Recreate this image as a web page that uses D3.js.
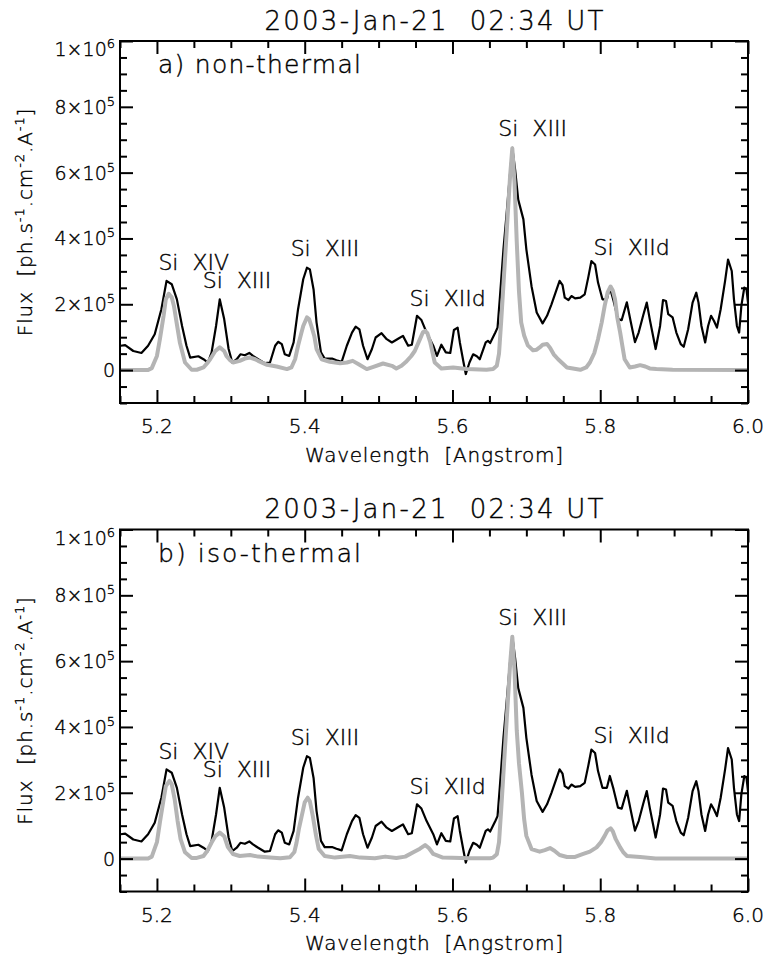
<!DOCTYPE html>
<html>
<head>
<meta charset="utf-8">
<script src="https://cdn.jsdelivr.net/npm/d3@7"></script>
<style>
  body { margin: 0; background: #fff; }
  svg text { font-family: "DejaVu Sans", sans-serif; font-weight: 200; fill: #000;
    stroke: #000; stroke-width: 0.4; white-space: pre; }
</style>
</head>
<body>
<div id="chart"></div>
<script>
// Observed spectrum (same in both panels), wavelength in Angstrom, flux in units of 1e5
let obsWave = [5.151, 5.157, 5.168, 5.179, 5.188, 5.197, 5.206, 5.213, 5.220, 5.227,
  5.234, 5.240, 5.245, 5.256, 5.263, 5.269, 5.274, 5.280, 5.285, 5.291,
  5.297, 5.302, 5.308, 5.313, 5.319, 5.325, 5.330, 5.337, 5.346, 5.353,
  5.360, 5.364, 5.369, 5.373, 5.379, 5.385, 5.391, 5.398, 5.403, 5.407,
  5.412, 5.416, 5.422, 5.427, 5.437, 5.443, 5.450, 5.457, 5.464, 5.469,
  5.474, 5.479, 5.485, 5.491, 5.496, 5.504, 5.511, 5.518, 5.527, 5.533,
  5.540, 5.545, 5.552, 5.558, 5.565, 5.574, 5.579, 5.585, 5.591, 5.597,
  5.602, 5.607, 5.610, 5.615, 5.618, 5.623, 5.628, 5.633, 5.637, 5.645,
  5.648, 5.651, 5.658, 5.661, 5.664, 5.669, 5.673, 5.676, 5.681, 5.685, 5.689,
  5.696, 5.700, 5.707, 5.714, 5.722, 5.728, 5.734, 5.741, 5.745, 5.749,
  5.752, 5.757, 5.761, 5.766, 5.773, 5.779, 5.784, 5.788, 5.793, 5.797,
  5.803, 5.809, 5.813, 5.818, 5.824, 5.829, 5.836, 5.841, 5.847, 5.852,
  5.858, 5.863, 5.867, 5.875, 5.881, 5.885, 5.889, 5.892, 5.898, 5.903,
  5.909, 5.913, 5.919, 5.925, 5.930, 5.933, 5.937, 5.942, 5.946, 5.950,
  5.954, 5.958, 5.963, 5.969, 5.973, 5.978, 5.981, 5.985, 5.988, 5.991,
  5.995, 5.998, 6.000];
let obsFlux = [0.74, 0.76, 0.58, 0.52, 0.74, 1.09, 1.85, 2.71, 2.61, 2.15,
  1.34, 0.74, 0.38, 0.42, 0.33, 0.23, 0.54, 1.34, 2.15, 1.55,
  0.64, 0.23, 0.33, 0.48, 0.45, 0.52, 0.43, 0.33, 0.21, 0.23,
  0.74, 0.86, 0.79, 0.48, 0.43, 0.84, 1.85, 2.76, 3.11, 3.06,
  2.45, 1.45, 0.54, 0.35, 0.35, 0.30, 0.25, 0.74, 1.14, 1.32,
  1.24, 0.74, 0.33, 0.64, 0.99, 1.12, 0.94, 0.84, 0.96, 1.04,
  0.74, 0.77, 1.65, 1.52, 1.14, 0.74, 0.43, 0.77, 0.54, 0.52,
  1.22, 1.29, 0.84, 0.23, -0.12, 0.23, 0.48, 0.42, 0.33, 0.84,
  0.89, 0.82, 1.14, 1.29, 2.15, 3.67, 4.68, 5.48, 6.75, 6.05, 5.18,
  4.58, 3.67, 2.55, 1.75, 1.42, 1.65, 2.00, 2.45, 2.71, 2.58,
  2.20, 2.13, 2.25, 2.18, 2.20, 2.30, 2.84, 3.31, 3.21, 2.66,
  2.15, 2.15, 2.51, 2.11, 1.55, 1.52, 2.06, 1.50, 0.85, 1.14,
  1.65, 2.05, 1.55, 0.64, 1.34, 2.13, 2.10, 1.70, 1.60, 1.14,
  0.79, 0.71, 1.24, 2.05, 2.35, 2.05, 1.34, 0.84, 1.34, 1.65,
  1.49, 1.29, 1.85, 2.71, 3.36, 3.01, 2.15, 1.34, 1.14, 1.95,
  2.51, 2.45, 2.05];

// a) non-thermal model
let ntWave = [5.150, 5.188, 5.193, 5.200, 5.204, 5.209, 5.212, 5.216, 5.220, 5.223,
  5.227, 5.231, 5.238, 5.247, 5.254, 5.263, 5.268, 5.272, 5.279, 5.285,
  5.291, 5.294, 5.299, 5.303, 5.312, 5.319, 5.326, 5.333, 5.337, 5.349,
  5.362, 5.376, 5.382, 5.387, 5.391, 5.395, 5.398, 5.403, 5.406, 5.409,
  5.413, 5.416, 5.423, 5.434, 5.448, 5.457, 5.465, 5.473, 5.484, 5.493,
  5.506, 5.518, 5.524, 5.531, 5.538, 5.544, 5.549, 5.556, 5.560, 5.563,
  5.566, 5.570, 5.576, 5.585, 5.601, 5.619, 5.646, 5.655, 5.660, 5.663,
  5.666, 5.669, 5.672, 5.675, 5.678, 5.681, 5.684, 5.687, 5.690, 5.693,
  5.697, 5.702, 5.709, 5.714, 5.718, 5.722, 5.728, 5.732, 5.737, 5.743,
  5.755, 5.773, 5.781, 5.786, 5.792, 5.797, 5.802, 5.806, 5.810, 5.814,
  5.817, 5.820, 5.823, 5.827, 5.830, 5.833, 5.840, 5.847, 5.854, 5.861,
  5.867, 5.876, 5.898, 6.000];
let ntFlux = [0, 0, 0.06, 0.43, 0.94, 1.65, 2.15, 2.32, 2.21, 1.95,
  1.39, 0.84, 0.23, 0.01, 0.01, 0.08, 0.21, 0.33, 0.58, 0.69,
  0.58, 0.43, 0.30, 0.23, 0.28, 0.35, 0.38, 0.33, 0.28, 0.16,
  0.11, 0.03, 0.08, 0.33, 0.74, 1.09, 1.34, 1.60, 1.55, 1.34,
  1.03, 0.64, 0.33, 0.25, 0.21, 0.23, 0.28, 0.18, 0.03, 0.10,
  0.20, 0.13, 0.05, 0.13, 0.27, 0.42, 0.58, 0.94, 1.15, 1.19,
  1.12, 0.84, 0.23, 0.05, 0.08, 0.03, 0.01, 0.03, 0.13, 0.5,
  1.5, 2.6, 3.7, 4.8, 5.9, 6.74, 5.7, 3.9, 2.4, 1.45,
  1.05, 0.75, 0.6, 0.62, 0.69, 0.77, 0.79, 0.68, 0.48, 0.33,
  0.08, 0.01, 0.08, 0.23, 0.52, 0.94, 1.45, 1.95, 2.36, 2.54,
  2.42, 2.15, 1.61, 1.14, 0.73, 0.33, 0.08, 0.11, 0.15, 0.11,
  0.05, 0.03, 0.01, 0];

// b) iso-thermal model
let itWave = [5.150, 5.188, 5.193, 5.200, 5.204, 5.209, 5.212, 5.217, 5.220, 5.224,
  5.228, 5.232, 5.238, 5.247, 5.254, 5.263, 5.268, 5.274, 5.279, 5.285,
  5.291, 5.296, 5.303, 5.312, 5.326, 5.337, 5.353, 5.367, 5.380, 5.386,
  5.389, 5.392, 5.396, 5.400, 5.404, 5.407, 5.411, 5.415, 5.419, 5.427,
  5.441, 5.461, 5.475, 5.495, 5.509, 5.524, 5.536, 5.547, 5.556, 5.563,
  5.568, 5.574, 5.587, 5.624, 5.651, 5.655, 5.660, 5.663, 5.666, 5.669,
  5.672, 5.675, 5.678, 5.681, 5.684, 5.687, 5.690, 5.694, 5.697, 5.700,
  5.707, 5.718, 5.725, 5.732, 5.738, 5.745, 5.755, 5.766, 5.777, 5.786,
  5.795, 5.801, 5.806, 5.810, 5.814, 5.817, 5.821, 5.827, 5.831, 5.836,
  5.854, 5.875, 6.000];
let itFlux = [0, 0, 0.06, 0.5, 1.1, 1.80, 2.20, 2.36, 2.26, 1.80,
  1.14, 0.59, 0.19, 0.02, 0.02, 0.08, 0.23, 0.49, 0.68, 0.79,
  0.68, 0.35, 0.14, 0.08, 0.11, 0.06, 0.03, 0.01, 0.04, 0.20,
  0.49, 0.89, 1.30, 1.71, 1.85, 1.74, 1.29, 0.74, 0.29, 0.08,
  0.03, 0.08, 0.03, 0.01, 0.06, 0.02, 0.06, 0.19, 0.30, 0.41,
  0.32, 0.14, 0.03, 0.01, 0.01, 0.03, 0.13, 0.5, 1.5, 2.6,
  3.7, 4.8, 5.9, 6.74, 5.7, 3.9, 2.9, 2.0, 1.2, 0.69,
  0.29, 0.21, 0.26, 0.32, 0.24, 0.11, 0.05, 0.05, 0.14, 0.21,
  0.34, 0.50, 0.69, 0.86, 0.92, 0.83, 0.59, 0.34, 0.20, 0.08,
  0.05, 0, 0];

// line identifications (text start point, in data units)
let lineNames = ["Si  XIV", "Si  XIII", "Si  XIII", "Si  XIId", "Si  XIII", "Si  XIId"];
let lineWave = [5.202, 5.262, 5.381, 5.542, 5.662, 5.791];
let lineFlux = [3.03, 2.48, 3.46, 1.95, 7.10, 3.51];

let xMajorTicks = [5.2, 5.4, 5.6, 5.8, 6.0];
let yMajorTicks = [0, 2e5, 4e5, 6e5, 8e5, 1e6];
let titleText = "2003-Jan-21  02:34 UT";
let panelNames = ["a) non-thermal", "b) iso-thermal"];

let svgWidth = 766;
let svgHeight = 962;
let plot = { left: 120, right: 748, top: 41, bottom: 403 };
let panelOffsets = [0, 488.5];

let svg = d3.select("#chart")
  .append("svg")
  .attr("width", svgWidth)
  .attr("height", svgHeight);

let x = d3.scaleLinear().domain([5.15, 6.0]).range([plot.left, plot.right]);
let y = d3.scaleLinear().domain([-1e5, 1e6]).range([plot.bottom, plot.top]);

let xMinorTicks = d3.range(5.15, 6.001, 0.05).map(d => +d.toFixed(2))
  .filter(d => !xMajorTicks.some(m => Math.abs(m - d) < 1e-6));
let yMinorTicks = d3.range(-1e5, 1e6 + 1, 5e4)
  .filter(d => !yMajorTicks.includes(d));

let line = d3.line()
  .x(d => x(d[0]))
  .y(d => y(d[1] * 1e5));

function styleAxis(g) {
  g.selectAll("path.domain").remove();
  g.selectAll("line").attr("stroke", "#000").attr("stroke-width", 2);
}

function drawPanel(idx, modelWave, modelFlux) {
  let g = svg.append("g").attr("transform", `translate(0,${panelOffsets[idx]})`);

  // title
  g.append("text")
    .attr("x", (plot.left + plot.right) / 2)
    .attr("y", 29.5)
    .attr("text-anchor", "middle")
    .attr("font-size", 26)
    .attr("textLength", 339)
    .attr("lengthAdjust", "spacing")
    .text(titleText);

  // spectra
  g.append("path")
    .datum(d3.zip(obsWave, obsFlux))
    .attr("fill", "none")
    .attr("stroke", "#000")
    .attr("stroke-width", 2.2)
    .attr("stroke-linejoin", "round")
    .attr("d", line);

  g.append("path")
    .datum(d3.zip(modelWave, modelFlux))
    .attr("fill", "none")
    .attr("stroke", "#b4b4b4")
    .attr("stroke-width", 4)
    .attr("stroke-linejoin", "round")
    .attr("d", line);

  // axes: ticks point inward on all four sides
  let axes = [
    [d3.axisBottom(x), `translate(0,${plot.bottom})`, xMajorTicks, xMinorTicks],
    [d3.axisTop(x), `translate(0,${plot.top})`, xMajorTicks, xMinorTicks],
    [d3.axisLeft(y), `translate(${plot.left},0)`, yMajorTicks, yMinorTicks],
    [d3.axisRight(y), `translate(${plot.right},0)`, yMajorTicks, yMinorTicks]
  ];
  axes.forEach(([axis, tr, major, minor]) => {
    g.append("g").attr("transform", tr)
      .call(axis.tickValues(major).tickSize(-13).tickSizeOuter(0).tickFormat(""))
      .call(styleAxis);
    g.append("g").attr("transform", tr)
      .call(axis.tickValues(minor).tickSize(-7).tickSizeOuter(0).tickFormat(""))
      .call(styleAxis);
  });

  // frame
  g.append("rect")
    .attr("x", plot.left)
    .attr("y", plot.top)
    .attr("width", plot.right - plot.left)
    .attr("height", plot.bottom - plot.top)
    .attr("fill", "none")
    .attr("stroke", "#000")
    .attr("stroke-width", 2);

  // x tick labels
  g.selectAll(".xlab")
    .data(xMajorTicks)
    .join("text")
    .attr("x", d => x(d))
    .attr("y", plot.bottom + 30)
    .attr("text-anchor", "middle")
    .attr("font-size", 20)
    .text(d => d.toFixed(1));

  // y tick labels with powers of ten (the top one sits a little lower, as in IDL)
  let ylab = g.selectAll(".ylab")
    .data(yMajorTicks)
    .join("text")
    .attr("x", 115)
    .attr("y", d => y(d) + 7 + (d === 1e6 ? 8 : 0))
    .attr("text-anchor", "end")
    .attr("font-size", 19);
  ylab.each(function(d) {
    let t = d3.select(this);
    if (d === 0) { t.text("0"); return; }
    let p = Math.floor(Math.log10(d));
    t.append("tspan").text(`${Math.round(d / Math.pow(10, p))}×10`);
    t.append("tspan").attr("font-size", 13).attr("dy", -8).text(p);
  });

  // axis titles
  g.append("text")
    .attr("x", (plot.left + plot.right) / 2)
    .attr("y", plot.bottom + 58.5)
    .attr("text-anchor", "middle")
    .attr("font-size", 20)
    .attr("textLength", 258)
    .attr("lengthAdjust", "spacing")
    .text("Wavelength  [Angstrom]");

  let yt = g.append("text")
    .attr("transform", `translate(32,${(plot.top + plot.bottom) / 2}) rotate(-90)`)
    .attr("text-anchor", "middle")
    .attr("font-size", 20)
    .attr("letter-spacing", 0.9);
  [["Flux  [ph.s", 0], ["-1", 1], [".cm", 0], ["-2", 1], [".A", 0], ["-1", 1], ["]", 0]]
    .forEach(([s, sup], i, arr) => {
      let prevSup = i > 0 ? arr[i - 1][1] : 0;
      yt.append("tspan")
        .attr("font-size", sup ? 13 : 20)
        .attr("dy", sup ? -8 : (prevSup ? 8 : 0))
        .text(s);
    });

  // panel name
  g.append("text")
    .attr("x", 158)
    .attr("y", 73)
    .attr("font-size", 25)
    .attr("textLength", 203)
    .attr("lengthAdjust", "spacing")
    .text(panelNames[idx]);

  // line identifications
  g.selectAll(".ion")
    .data(d3.zip(lineNames, lineWave, lineFlux))
    .join("text")
    .attr("x", d => x(d[1]))
    .attr("y", d => y(d[2] * 1e5))
    .attr("font-size", 22)
    .text(d => d[0]);
}

drawPanel(0, ntWave, ntFlux);
drawPanel(1, itWave, itFlux);
</script>
</body>
</html>
